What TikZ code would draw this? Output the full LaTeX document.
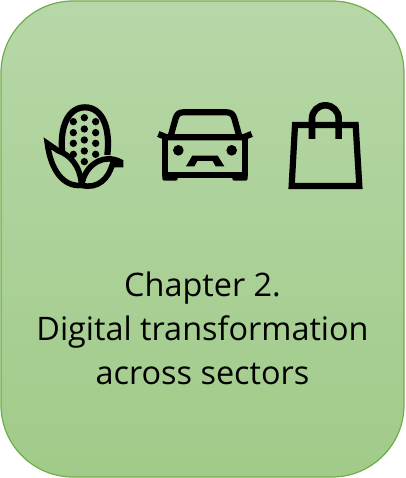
\documentclass[tikz,border=0pt]{standalone}
\usepackage{fontspec}
\setmainfont{Open Sans}
\definecolor{topc}{HTML}{B7D7A8}
\definecolor{botc}{HTML}{A1CB89}
\definecolor{edgec}{HTML}{70AD47}
\tikzset{
  card/.style={draw=edgec,line width=1.2pt,rounded corners=72pt,top color=topc,bottom color=botc,minimum width=403pt,minimum height=476pt,inner sep=0pt},
  ink/.style={draw=black,line width=6.2pt,line join=miter},
  title/.style={align=center,font=\fontsize{32.4pt}{44pt}\selectfont,text=black,inner sep=0pt}
}
\begin{document}
\begin{tikzpicture}[x=1pt,y=-1pt]
\useasboundingbox (0,0) rectangle (405,478);
\node[card] (card) at (202.5,239) {};
\node[title] (label) at (202.5,328.5) {Chapter 2.\\Digital transformation\\across sectors};
% corn
\begin{scope}[shift={(30,90)},x=0.3333pt,y=-0.3333pt]
  \begin{scope}
    \clip (97,200) .. controls (90,110) and (115,52) .. (165,52) .. controls (215,52) and (240,110) .. (232,200) -- (165,240) -- cycle;
    \foreach \x/\y in {163/83,163/117,163/150,163/183,163/215,130/95,130/128,130/160,130/193,197/95,197/128,197/160,197/193}
      \fill[black] (\x,\y) circle (11);
  \end{scope}
  \draw[ink] (97,190) .. controls (88,110) and (115,52) .. (165,52) .. controls (215,52) and (242,110) .. (232,195);
  \draw[ink,line width=5.6pt] (52,160) -- (84,182) .. controls (120,195) and (150,225) .. (155,286)
     .. controls (100,292) and (62,240) .. (52,160) -- cycle;
  \draw[ink,line width=5.6pt] (272,216) .. controls (225,190) and (165,220) .. (155,286)
     .. controls (205,298) and (235,265) .. (247,224) -- (272,224) -- cycle;
\end{scope}
% car
\begin{scope}[shift={(145,90)},x=0.3333pt,y=-0.3333pt]
  \draw[ink,line join=round] (78,135) -- (92,85) .. controls (96,72) and (103,67) .. (115,67) -- (245,67) .. controls (257,67) and (264,72) .. (268,85) -- (282,135);
  \draw[ink,line cap=butt] (40,132) -- (65,142) -- (295,142) -- (320,132);
  \draw[ink,line join=round] (60,145) -- (60,255) -- (300,255) -- (300,145);
  \fill[black,rounded corners=2pt] (52,250) rectangle (98,272);
  \fill[black,rounded corners=2pt] (262,250) rectangle (308,272);
  \fill[black] (100,181) circle (16);
  \fill[black] (260,181) circle (16);
  \fill[black] (123,229) -- (142,197) -- (218,197) -- (238,229) -- (212,229) -- (203,213) -- (157,213) -- (148,229) -- cycle;
\end{scope}
% bag
\begin{scope}[shift={(275,90)},x=0.3333pt,y=-0.3333pt]
  \draw[ink] (60,105) -- (242,105) -- (253,288) -- (50,288) -- cycle;
  \draw[ink,line width=6.6pt] (111,147) -- (111,86) arc[start angle=180,end angle=0,x radius=40,y radius=-40] -- (191,147);
\end{scope}
\end{tikzpicture}
\end{document}
